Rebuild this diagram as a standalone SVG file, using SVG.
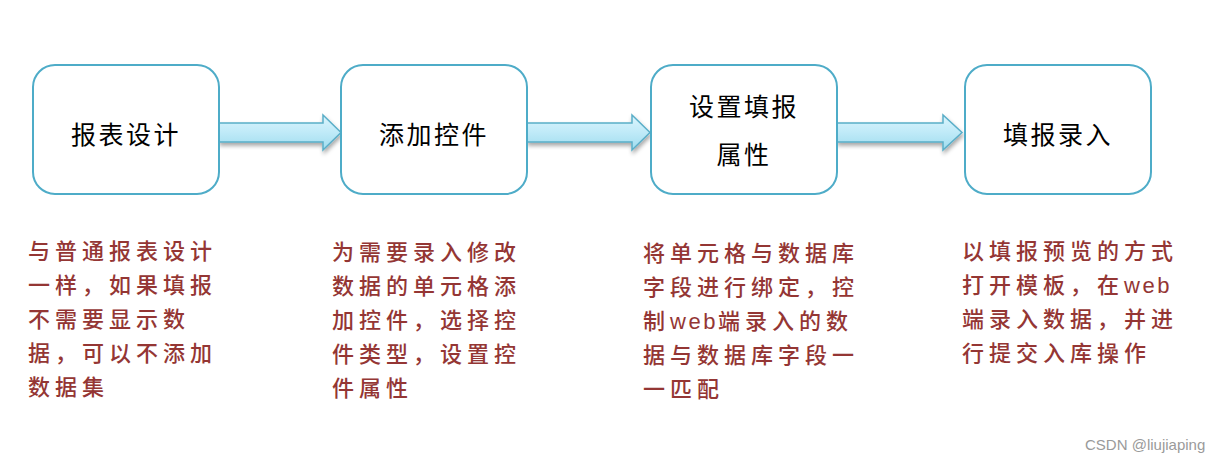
<svg xmlns="http://www.w3.org/2000/svg" width="1224" height="464" viewBox="0 0 1224 464">
<style>
.box{fill:#ffffff;stroke:#4eacc8;stroke-width:2}
.arrow{fill:url(#ag);stroke:#5aaec8;stroke-width:1.5;filter:url(#sh)}
.lbl{font-family:"Liberation Sans","Noto Sans CJK SC",sans-serif;font-size:25px;fill:#000;letter-spacing:2.5px;text-anchor:middle}
.desc{font-family:"Liberation Sans","Noto Sans CJK SC",sans-serif;font-size:22px;font-weight:500;fill:#943634;letter-spacing:5px}
.lat{letter-spacing:2.5px}
.wm{font-family:"Liberation Sans","Noto Sans",sans-serif;font-size:15px;fill:#9a9a9a}
</style>
<defs>
<linearGradient id="ag" x1="0" y1="0" x2="0" y2="1">
<stop offset="0" stop-color="#dcf5fd"/>
<stop offset="0.5" stop-color="#bfeaf8"/>
<stop offset="1" stop-color="#9fdcee"/>
</linearGradient>
<filter id="sh" x="-20%" y="-50%" width="140%" height="200%">
<feGaussianBlur in="SourceAlpha" stdDeviation="2"/>
<feOffset dx="1" dy="3" result="b"/>
<feComponentTransfer><feFuncA type="linear" slope="0.35"/></feComponentTransfer>
<feMerge><feMergeNode/><feMergeNode in="SourceGraphic"/></feMerge>
</filter>
</defs>
<g id="connectors">
<path class="arrow" d="M219,123 H323 V115 L341,132.5 L323,150 V142 H219 Z"/>
<path class="arrow" d="M527,123 H632 V115 L650,132.5 L632,150 V142 H527 Z"/>
<path class="arrow" d="M837,123 H943 V115 L962,132.5 L943,150 V142 H837 Z"/>
</g>
<g id="node1">
<rect class="box" x="33" y="65" width="186" height="129" rx="22"/>
<text class="lbl" x="126" y="144">报表设计</text>
</g>
<g id="node2">
<rect class="box" x="341" y="65" width="186" height="129" rx="22"/>
<text class="lbl" x="434" y="144">添加控件</text>
</g>
<g id="node3">
<rect class="box" x="651" y="65" width="186" height="129" rx="22"/>
<text class="lbl" x="744" y="116">设置填报</text>
<text class="lbl" x="744" y="164">属性</text>
</g>
<g id="node4">
<rect class="box" x="965" y="65" width="186" height="129" rx="22"/>
<text class="lbl" x="1058" y="144">填报录入</text>
</g>
<g id="desc1">
<text class="desc" x="28" y="259">与普通报表设计</text>
<text class="desc" x="28" y="293">一样，如果填报</text>
<text class="desc" x="28" y="327">不需要显示数</text>
<text class="desc" x="28" y="361">据，可以不添加</text>
<text class="desc" x="28" y="395">数据集</text>
</g>
<g id="desc2">
<text class="desc" x="332" y="260">为需要录入修改</text>
<text class="desc" x="332" y="294">数据的单元格添</text>
<text class="desc" x="332" y="328">加控件，选择控</text>
<text class="desc" x="332" y="362">件类型，设置控</text>
<text class="desc" x="332" y="396">件属性</text>
</g>
<g id="desc3">
<text class="desc" x="643" y="261">将单元格与数据库</text>
<text class="desc" x="643" y="295">字段进行绑定，控</text>
<text class="desc" x="643" y="329">制<tspan class="lat">web</tspan>端录入的数</text>
<text class="desc" x="643" y="363">据与数据库字段一</text>
<text class="desc" x="643" y="397">一匹配</text>
</g>
<g id="desc4">
<text class="desc" x="962" y="259">以填报预览的方式</text>
<text class="desc" x="962" y="293">打开模板，在<tspan class="lat">web</tspan></text>
<text class="desc" x="962" y="327">端录入数据，并进</text>
<text class="desc" x="962" y="361">行提交入库操作</text>
</g>
<text class="wm" x="1085" y="450">CSDN @liujiaping</text>
</svg>
